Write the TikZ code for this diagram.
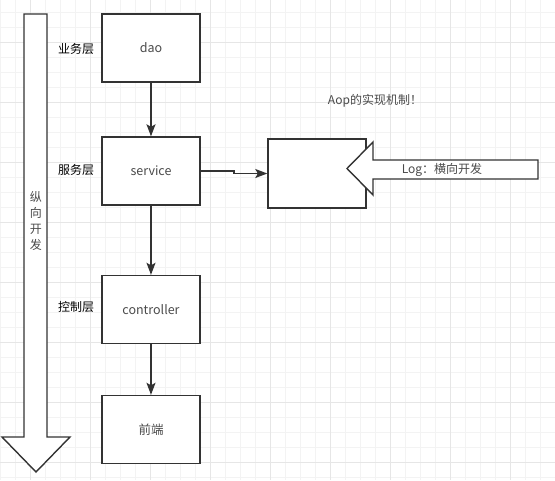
\documentclass[tikz,border=0pt]{standalone}
\usepackage{fontspec}
\setmainfont{Noto Sans CJK SC}
\usetikzlibrary{arrows.meta}
\definecolor{gridminor}{HTML}{F3F3F3}
\definecolor{gridmajor}{HTML}{E6E6E6}
\definecolor{edge}{HTML}{333333}
\definecolor{boxtext}{HTML}{4A4A4A}
\tikzset{
  box/.style={draw=edge, line width=1.4pt, fill=white, minimum width=98pt, minimum height=68pt, inner sep=0pt, text=boxtext, font=\fontsize{12.5}{14}\selectfont},
  layer/.style={font=\fontsize{12}{14}\selectfont, text=black, inner sep=0pt},
  conn/.style={draw=edge, line width=1.4pt, -{Stealth[length=12pt,width=9pt,inset=2.5pt]}},
  bigarrow/.style={draw=edge, line width=1.4pt, fill=white, line join=miter},
}
\begin{document}
\begin{tikzpicture}[x=1pt,y=-1pt]
\useasboundingbox (0,0) rectangle (555,480);
\fill[white] (0,0) rectangle (555,480);
% grid
\foreach \x in {0,15,...,555} \draw[gridminor, line width=0.6pt] (\x,0) -- (\x,480);
\foreach \y in {12,27,...,480} \draw[gridminor, line width=0.6pt] (0,\y) -- (555,\y);
\foreach \x in {30,90,...,555} \draw[gridmajor, line width=0.6pt] (\x,0) -- (\x,480);
\foreach \y in {42,102,...,480} \draw[gridmajor, line width=0.6pt] (0,\y) -- (555,\y);

% vertical big arrow
\draw[bigarrow] (24,14) -- (47,14) -- (47,437) -- (70,437) -- (36,472) -- (2,437) -- (24,437) -- cycle;
\node[font=\fontsize{12}{16}\selectfont, text=boxtext, align=center, inner sep=0pt] (vert) at (36,221) {纵\\向\\开\\发};

% boxes
\node[box] (dao) at (151,48) {dao};
\node[box] (service) at (151,171) {service};
\node[box] (controller) at (151,309.5) {controller};
\node[box] (front) at (151,429.5) {前端};
\node[box, minimum height=69pt] (aop) at (317,173.5) {};

% layer labels
\node[layer] (l1) at (76,49) {业务层};
\node[layer] (l2) at (76,170) {服务层};
\node[layer] (l3) at (76,307) {控制层};

% connectors
\draw[conn] (dao) -- (service);
\draw[conn] (service) -- (controller);
\draw[conn] (controller) -- (front);
\coordinate (bend) at (234,171);
\draw[conn] (service.east) -- (bend) |- (aop.west);

% horizontal big arrow
\draw[bigarrow] (538,160) -- (373,160) -- (373,142) -- (347,168.5) -- (373,195) -- (373,179) -- (538,179) -- cycle;
\node[font=\fontsize{12}{14}\selectfont, text=boxtext, inner sep=0pt] (log) at (442,170) {Log：横向开发};

% title
\node[font=\fontsize{12}{14}\selectfont, text=boxtext, inner sep=0pt] (title) at (375,101) {Aop的实现机制！};
\end{tikzpicture}
\end{document}
